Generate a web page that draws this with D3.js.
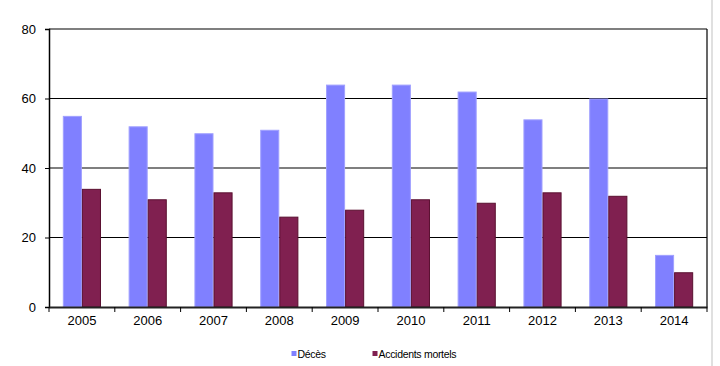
<!DOCTYPE html>
<html><head><meta charset="utf-8">
<script src="https://cdn.jsdelivr.net/npm/d3@7"></script>
<style>body{margin:0;background:#fff}svg{display:block;font-family:"Liberation Sans",Arial,sans-serif}</style>
</head><body><svg id="c" width="720" height="366"></svg>
<script>
const years = ["2005","2006","2007","2008","2009","2010","2011","2012","2013","2014"];
const deces = [55,52,50,51,64,64,62,54,60,15];
const accidents = [34,31,33,26,28,31,30,33,32,10];
const yTicks = [0,20,40,60,80];
const seriesNames = ["Décès","Accidents mortels"];
const colors = ["#8080FF","#802050"];
const strokes = ["#A0A0FF","#5A1030"];

const svg = d3.select("#c");
const m = {l:49, r:13, t:29, b:59};
const W = 720, H = 366;
const x = d3.scaleBand().domain(years).range([m.l, W - m.r]).paddingInner(0.42).paddingOuter(0.21);
const xs = d3.scaleBand().domain([0,1]).range([0, x.bandwidth()]);
const y = d3.scaleLinear().domain([0,80]).range([H - m.b, m.t]);

// right gray edge
svg.append("rect").attr("x",711).attr("y",0).attr("width",2).attr("height",H).attr("fill","#e0e0e0");

// gridlines
svg.append("g").selectAll("line").data(yTicks.filter(d=>d>0)).join("line")
  .attr("x1",m.l).attr("x2",W-m.r).attr("y1",d=>y(d)).attr("y2",d=>y(d))
  .attr("stroke","#000").attr("stroke-width",1.2);
// right border
svg.append("line").attr("x1",W-m.r).attr("x2",W-m.r).attr("y1",y(80)).attr("y2",y(0)).attr("stroke","#000").attr("stroke-width",1.2);

const series = [deces, accidents];
series.forEach((vals,i)=>{
  svg.append("g").selectAll("rect").data(vals).join("rect")
    .attr("x",(d,j)=>x(years[j])+xs(i)+0.5)
    .attr("y",d=>y(d)+0.5)
    .attr("width",xs.bandwidth()-1)
    .attr("height",d=>y(0)-y(d)-0.5)
    .attr("fill",colors[i]).attr("stroke",strokes[i]).attr("stroke-width",1);
});

// y axis
const ya = svg.append("g").attr("transform",`translate(${m.l},0)`)
  .call(d3.axisLeft(y).tickValues(yTicks).tickSize(4).tickPadding(9).tickFormat(d3.format("d")));
ya.select(".domain").attr("stroke","#000").attr("stroke-width",1.5);
ya.selectAll(".tick line").attr("stroke","#000");
ya.selectAll("text").attr("font-size",13).attr("fill","#000").attr("font-family","Liberation Sans, Arial");

// x axis
const xa = svg.append("g").attr("transform",`translate(0,${y(0)})`)
  .call(d3.axisBottom(x).tickSize(0).tickPadding(9));
xa.select(".domain").attr("stroke","#222").attr("stroke-width",2);
xa.selectAll("text").attr("font-size",13).attr("fill","#000").attr("font-family","Liberation Sans, Arial");
// ticks at band boundaries
const bounds = d3.range(years.length+1).map(k=>m.l + k*x.step());
svg.append("g").selectAll("line").data(bounds).join("line")
  .attr("x1",d=>d).attr("x2",d=>d).attr("y1",y(0)).attr("y2",y(0)+5)
  .attr("stroke","#000").attr("stroke-width",1);

// legend
const leg = svg.append("g");
const lx = [291.5, 372.5];
seriesNames.forEach((n,i)=>{
  leg.append("rect").attr("x",lx[i]).attr("y",351).attr("width",5).attr("height",5).attr("fill",colors[i]);
  leg.append("text").attr("x",lx[i]+6).attr("y",357.5).attr("font-size",10.5).attr("fill","#000")
    .attr("letter-spacing","-0.3").text(n);
});
</script></body></html>
